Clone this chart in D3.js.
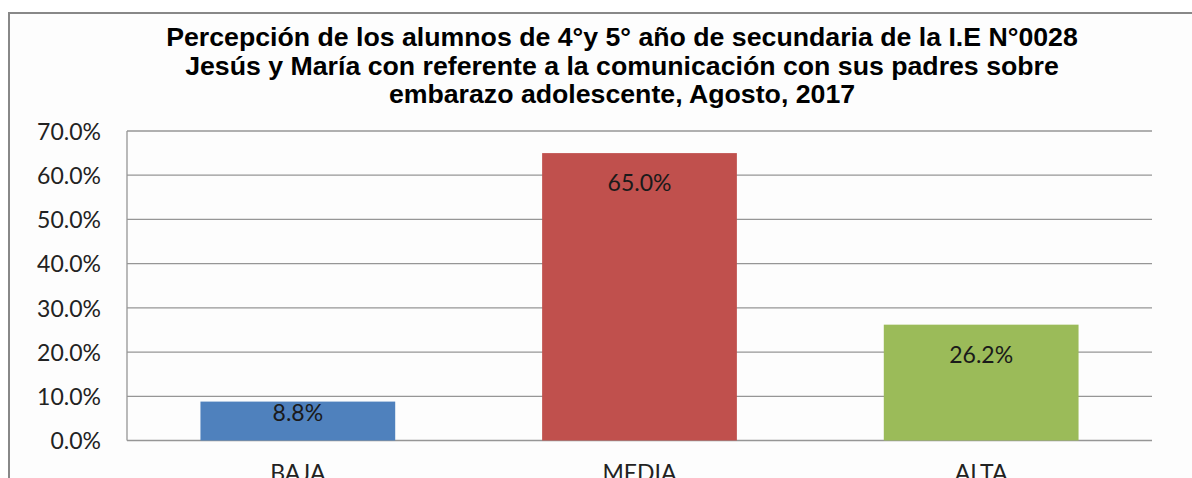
<!DOCTYPE html>
<html><head><meta charset="utf-8">
<script src="https://cdn.jsdelivr.net/npm/d3@7"></script>
<style>html,body{margin:0;padding:0;background:#fff;overflow:hidden}</style>
</head><body>
<script>
const categories = ["BAJA", "MEDIA", "ALTA"];
const values = [8.8, 65.0, 26.2];
const colors = ["#4F81BD", "#C0504D", "#9BBB59"];
const yTicks = [0, 10, 20, 30, 40, 50, 60, 70];
const titleLines = [
  "Percepción de los alumnos de 4°y 5° año de secundaria de la I.E N°0028",
  "Jesús y María con referente a la comunicación con sus padres sobre",
  "embarazo adolescente, Agosto, 2017"
];

const W = 1192, H = 478;
const svg = d3.select("body").append("svg").attr("width", W).attr("height", H);

svg.append("rect").attr("x", 9).attr("y", 13).attr("width", W).attr("height", H)
  .attr("fill", "#fdfdfd").attr("stroke", "#888").attr("stroke-width", 2);

const pLeft = 127, pRight = 1152, pTop = 131, pBottom = 440.5;
const x = d3.scaleBand().domain(categories).range([pLeft, pRight]).paddingInner(0.43).paddingOuter(0.215);
const y = d3.scaleLinear().domain([0, 70]).range([pBottom, pTop]);

svg.append("g").selectAll("line").data(yTicks).join("line")
  .attr("x1", pLeft).attr("x2", pRight)
  .attr("y1", d => y(d)).attr("y2", d => y(d))
  .attr("stroke", "#969696").attr("stroke-width", 1.3);
svg.append("line").attr("x1", pLeft).attr("x2", pLeft).attr("y1", pTop).attr("y2", pBottom)
  .attr("stroke", "#969696").attr("stroke-width", 1.3);

const font = "Lato, 'Open Sans', sans-serif";

const yAxis = d3.axisLeft(y).tickValues(yTicks).tickSize(0).tickPadding(0)
  .tickFormat(d => d.toFixed(1) + "%");
const gy = svg.append("g").attr("transform", `translate(101,0)`).call(yAxis);
gy.select(".domain").remove();
gy.selectAll("text").attr("font-family", font).attr("font-size", 23).attr("fill", "#222").attr("dy", "0.36em");

svg.append("g").selectAll("rect").data(values).join("rect")
  .attr("x", (d, i) => x(categories[i]))
  .attr("width", x.bandwidth())
  .attr("y", d => y(d))
  .attr("height", d => y(0) - y(d))
  .attr("fill", (d, i) => colors[i]);

svg.append("g").selectAll("text").data(values).join("text")
  .attr("x", (d, i) => x(categories[i]) + x.bandwidth() / 2)
  .attr("y", d => Math.min(y(d) + 38, y(0) - 20))
  .attr("text-anchor", "middle")
  .attr("font-family", font).attr("font-size", 23).attr("fill", "#1a1a1a")
  .text(d => d.toFixed(1) + "%");

const xAxis = d3.axisBottom(x).tickSize(0).tickPadding(0);
const gx = svg.append("g").attr("transform", `translate(0,${pBottom})`).call(xAxis);
gx.select(".domain").remove();
gx.selectAll("text").attr("font-family", font).attr("font-size", 23).attr("fill", "#222")
  .attr("dy", null).attr("y", 40);

svg.append("g").selectAll("text").data(titleLines).join("text")
  .attr("x", 622).attr("y", (d, i) => 46 + i * 28.5)
  .attr("text-anchor", "middle")
  .attr("font-family", "'Liberation Sans', Arial, sans-serif").attr("font-weight", "bold")
  .attr("font-size", 26.7).attr("fill", "#000")
  .text(d => d);
</script>
</body></html>
